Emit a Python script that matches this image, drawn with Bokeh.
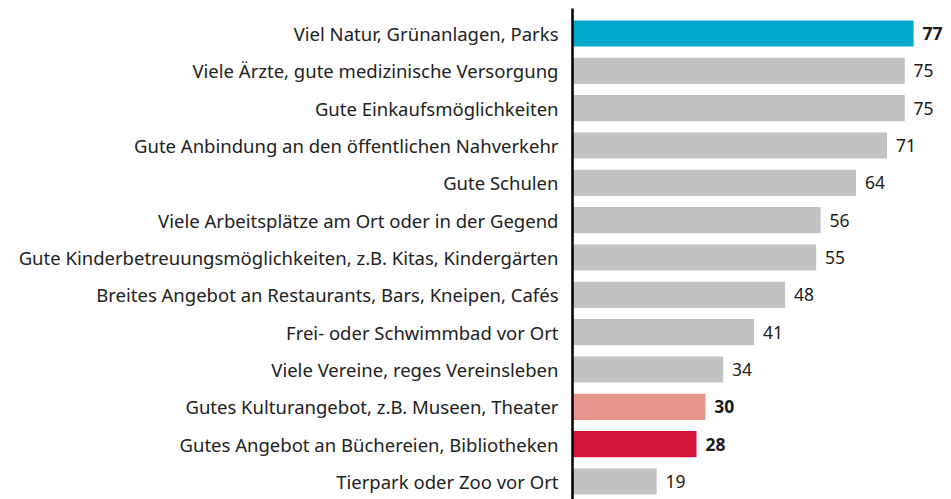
from bokeh.plotting import figure
from bokeh.models import Range1d, FixedTicker, ColumnDataSource
from bokeh.embed import file_html
from bokeh.resources import INLINE
from bokeh.core.properties import value

categories = [
    "Viel Natur, Grünanlagen, Parks",
    "Viele Ärzte, gute medizinische Versorgung",
    "Gute Einkaufsmöglichkeiten",
    "Gute Anbindung an den öffentlichen Nahverkehr",
    "Gute Schulen",
    "Viele Arbeitsplätze am Ort oder in der Gegend",
    "Gute Kinderbetreuungsmöglichkeiten, z.B. Kitas, Kindergärten",
    "Breites Angebot an Restaurants, Bars, Kneipen, Cafés",
    "Frei- oder Schwimmbad vor Ort",
    "Viele Vereine, reges Vereinsleben",
    "Gutes Kulturangebot, z.B. Museen, Theater",
    "Gutes Angebot an Büchereien, Bibliotheken",
    "Tierpark oder Zoo vor Ort",
]
values = [77, 75, 75, 71, 64, 56, 55, 48, 41, 34, 30, 28, 19]
colors = ["#00a8cb"] + ["#c2c2c2"] * 9 + ["#e8968c", "#d5143d", "#c2c2c2"]
bold = [True] + [False] * 9 + [True, True, False]

n = len(categories)
ypos = [n - 1 - i for i in range(n)]

src = ColumnDataSource(dict(
    y=ypos, v=values, c=colors,
    lx=[v + 2.0 for v in values],
    lt=[str(v) for v in values],
    fs=["bold" if b else "normal" for b in bold],
))

p = figure(width=945, height=499, output_backend="svg", toolbar_location=None,
           x_range=Range1d(0, 84.2), y_range=Range1d(-0.483, 12.67),
           min_border_left=572, min_border_right=0, min_border_top=8, min_border_bottom=0)

p.hbar(y="y", left=0, right="v", height=0.7, fill_color="c", line_color=None, source=src)
p.text(x="lx", y="y", text="lt", text_font_style="fs", text_baseline="middle",
       text_align="left", text_font_size="17.5px", text_color="#1a1a1a",
       text_font=value("Noto Sans"), source=src)

p.xaxis.visible = False
p.xgrid.visible = False
p.ygrid.visible = False
p.outline_line_color = None

ya = p.yaxis[0]
ya.ticker = FixedTicker(ticks=ypos)
ya.major_label_overrides = {y: c for y, c in zip(ypos, categories)}
ya.axis_line_color = "#000000"
ya.axis_line_width = 2.5
ya.major_tick_line_color = None
ya.minor_tick_line_color = None
ya.major_label_standoff = 8
ya.major_label_text_font = "Noto Sans"
ya.major_label_text_font_size = "18.5px"
ya.major_label_text_color = "#222222"

open("out.html", "w").write(file_html(p, INLINE))
